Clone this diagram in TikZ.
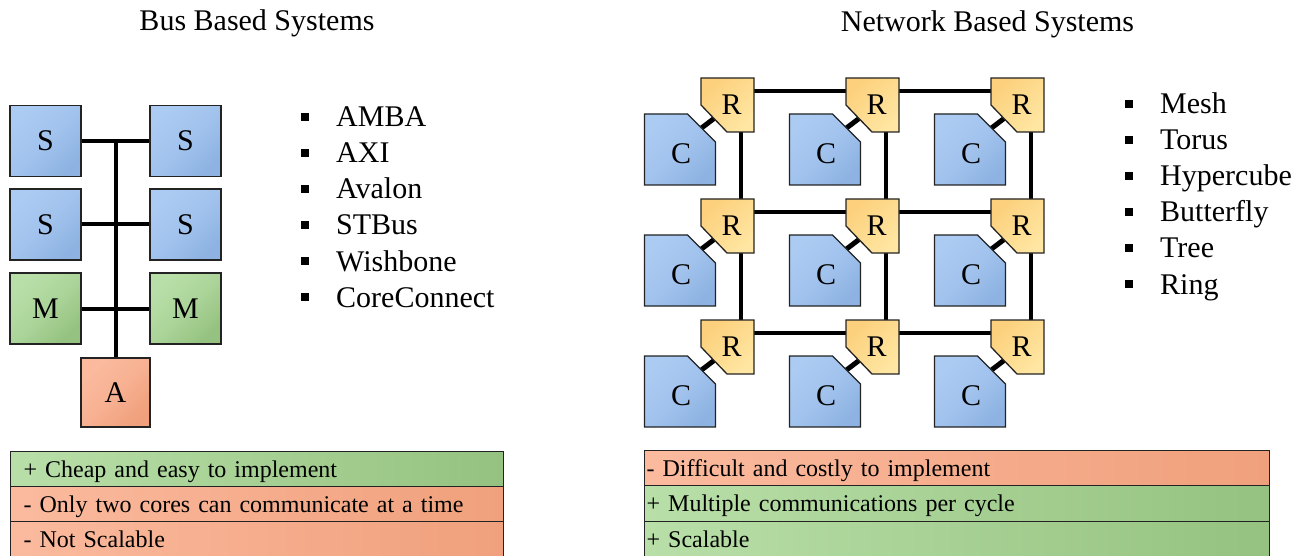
\documentclass[tikz,border=0pt]{standalone}
\usepackage{fontspec}
\setmainfont{Liberation Serif}
\usetikzlibrary{calc,backgrounds}

\definecolor{edge}{RGB}{35,35,35}
\definecolor{blueL}{RGB}{172,203,243}
\definecolor{blueD}{RGB}{142,179,226}
\definecolor{greenL}{RGB}{184,223,168}
\definecolor{greenD}{RGB}{149,194,128}
\definecolor{orangeL}{RGB}{251,186,158}
\definecolor{orangeD}{RGB}{240,160,124}
\definecolor{yellowD}{RGB}{252,208,124}
\definecolor{yellowL}{RGB}{255,230,162}

\newcommand\bigfont{\fontsize{30}{36}\selectfont}
\newcommand\barfont{\fontsize{24}{28}\selectfont}
\newcommand\bsq{\makebox[35pt][l]{\rule[6pt]{8pt}{8pt}}}

\tikzset{
  x=1pt, y=-1pt,
  unit/.style={draw=edge, line width=1.3pt, minimum width=71pt, minimum height=71pt,
    inner sep=0pt, font=\bigfont},
  sbox/.style={unit, top color=blueL, bottom color=blueD, middle color=blueL!65!blueD,
    shading angle=45},
  mbox/.style={unit, top color=greenL, bottom color=greenD, middle color=greenL!65!greenD,
    shading angle=45},
  abox/.style={unit, minimum width=69pt, minimum height=69pt,
    top color=orangeL, bottom color=orangeD, middle color=orangeL!65!orangeD, shading angle=45},
  rshape/.style={draw=edge, line width=1.3pt, top color=yellowD, bottom color=yellowL,
    shading angle=45},
  cshape/.style={draw=edge, line width=1.3pt, top color=blueL, bottom color=blueD,
    middle color=blueL!65!blueD, shading angle=45},
  rlabel/.style={minimum width=53pt, minimum height=54pt, inner sep=0pt, font=\bigfont},
  clabel/.style={inner sep=0pt, font=\bigfont},
  bus/.style={line width=4pt},
  wire/.style={line width=4pt},
  link/.style={line width=5pt},
  title/.style={font=\bigfont, anchor=base, inner sep=0pt},
  item/.style={font=\bigfont, anchor=base west, inner sep=0pt},
  bar/.style={draw=edge, line width=1.3pt, anchor=north west, align=left,
    font=\barfont, text height=16pt, text depth=0pt, inner ysep=0pt},
  barL/.style={bar, minimum width=493pt, inner xsep=13pt, text width=467pt},
  barR/.style={bar, minimum width=625pt, inner xsep=2pt, text width=621pt},
  good/.style={left color=greenL, right color=greenD},
  bad/.style={left color=orangeL, right color=orangeD},
}

% router: square with the lower left corner cut off
\newcommand\mkrouter[3]{%
  \shadedraw[rshape] (#2,#3) ++(-26.5,-27) -- ++(53,0) -- ++(0,54) -- ++(-27,0)
    -- ++(-26,-27) -- cycle;
  \node[rlabel] (#1) at (#2,#3) {\hspace*{8pt}R};
  \coordinate (#1-cut) at ($(#2,#3)+(-13.5,13.5)$);
}
% core: square with the upper right corner cut off
\newcommand\mkcore[3]{%
  \shadedraw[cshape] (#2,#3) ++(-35.5,-35.5) -- ++(43,0) -- ++(28,28) -- ++(0,43)
    -- ++(-71,0) -- cycle;
  \node[clabel] (#1) at ($(#2,#3)+(1,4)$) {C};
  \coordinate (#1-cut) at ($(#2,#3)+(21.5,-21.5)$);
}

\begin{document}
\begin{tikzpicture}
\useasboundingbox (0,0) rectangle (1309,556);

% ---------- bus based ----------
\node[title] (tbus) at (257,31) {Bus Based Systems};

\node[sbox] (s1) at (45.5,141) {S};
\node[sbox] (s2) at (185.5,141) {S};
\node[sbox] (s3) at (45.5,224.5) {S};
\node[sbox] (s4) at (185.5,224.5) {S};
\node[mbox] (m1) at (45.5,308.5) {M};
\node[mbox] (m2) at (185.5,308.5) {M};
\node[abox] (a) at (115.5,392.5) {A};

\begin{pgfonlayer}{background}
  \draw[bus] (a.north) -- (a.north |- s1.east);
  \draw[bus] (s1.east) -- (s2.west);
  \draw[bus] (s3.east) -- (s4.west);
  \draw[bus] (m1.east) -- (m2.west);
\end{pgfonlayer}

\node[item] (b1) at (301,127) {\bsq AMBA};
\node[item] (b2) at (301,163) {\bsq AXI};
\node[item] (b3) at (301,199) {\bsq Avalon};
\node[item] (b4) at (301,235) {\bsq STBus};
\node[item] (b5) at (301,271) {\bsq Wishbone};
\node[item] (b6) at (301,307) {\bsq CoreConnect};

\node[barL, good, minimum height=35pt] (p1) at (10,451) {+ Cheap and easy to implement};
\node[barL, bad, minimum height=35pt] (p2) at (10,486) {- Only two cores can communicate at a time};
\node[barL, bad, minimum height=40pt, text height=12pt] (p3) at (10,521) {- Not Scalable};

% ---------- network based ----------
\node[title] (tnet) at (987.5,32) {Network Based Systems};

\foreach \i in {0,1,2} {
  \foreach \j in {0,1,2} {
    \mkcore{c\i\j}{680+145*\i}{149.5+121*\j}
    \mkrouter{r\i\j}{727.5+145*\i}{105+121*\j}
  }
}

\begin{pgfonlayer}{background}
  \foreach \j in {0,1,2} {
    \draw[wire] ([yshift=-13pt]r0\j.north east) -- ([yshift=-13pt]r1\j.north west);
    \draw[wire] ([yshift=-13pt]r1\j.north east) -- ([yshift=-13pt]r2\j.north west);
  }
  \foreach \i in {0,1,2} {
    \draw[wire] ([xshift=13.5pt]r\i0.south) -- ([xshift=13.5pt]r\i1.north);
    \draw[wire] ([xshift=13.5pt]r\i1.south) -- ([xshift=13.5pt]r\i2.north);
  }
  \foreach \i in {0,1,2} {
    \foreach \j in {0,1,2} {
      \draw[link] (c\i\j-cut) -- (r\i\j-cut);
    }
  }
\end{pgfonlayer}

\node[item] (n1) at (1125,114) {\bsq Mesh};
\node[item] (n2) at (1125,150) {\bsq Torus};
\node[item] (n3) at (1125,186) {\bsq Hypercube};
\node[item] (n4) at (1125,222) {\bsq Butterfly};
\node[item] (n5) at (1125,258) {\bsq Tree};
\node[item] (n6) at (1125,294) {\bsq Ring};

\node[barR, bad, minimum height=35pt] (q1) at (644,450) {- Difficult and costly to implement};
\node[barR, good, minimum height=36pt] (q2) at (644,485) {+ Multiple communications per cycle};
\node[barR, good, minimum height=40pt, text height=12pt] (q3) at (644,521) {+ Scalable};
\end{tikzpicture}
\end{document}
